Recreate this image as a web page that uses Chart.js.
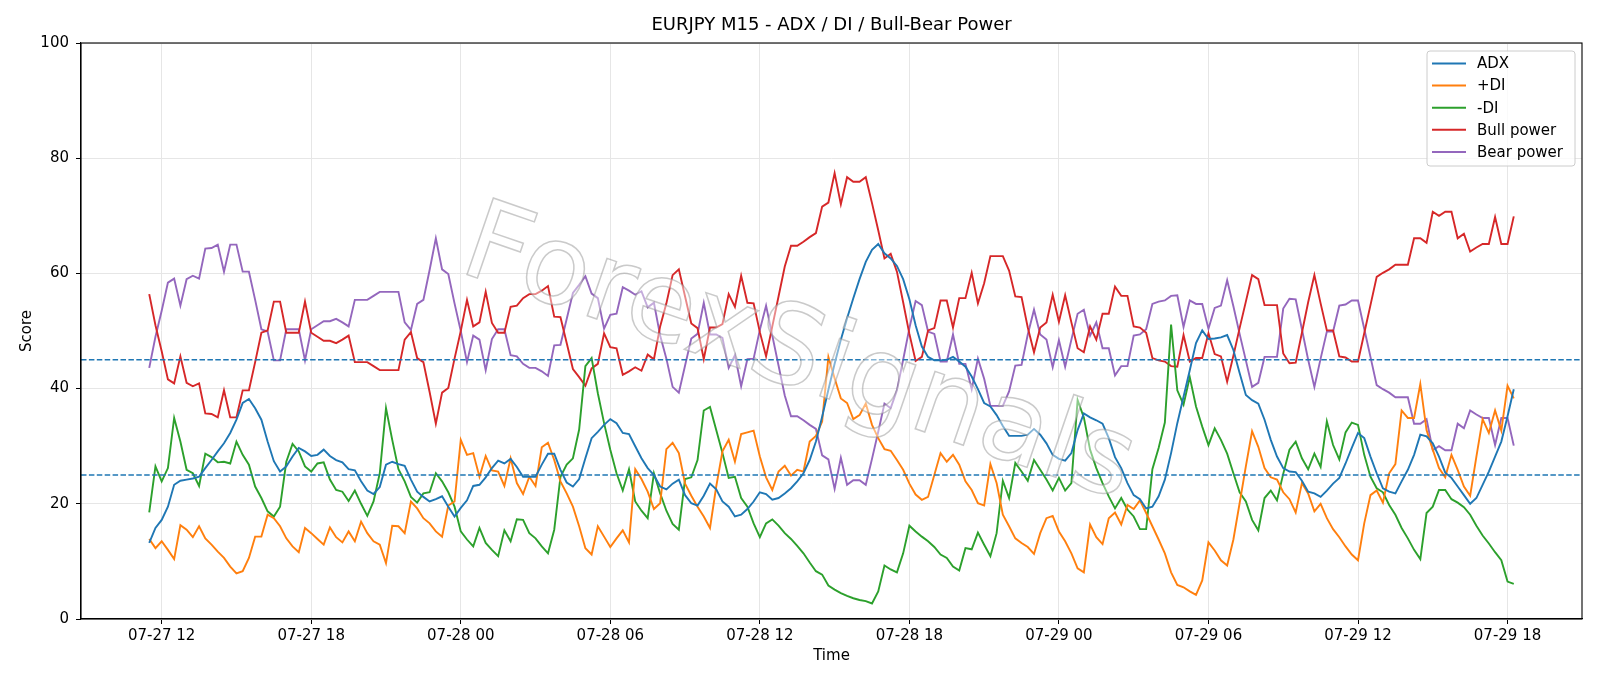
<!DOCTYPE html>
<html>
<head>
<meta charset="utf-8">
<script src="https://cdn.jsdelivr.net/npm/chart.js@4.4.1/dist/chart.umd.min.js"></script>
<style>
  html, body { margin: 0; padding: 0; background: #fff; }
  #wrap { width: 1600px; height: 686px; }
</style>
</head>
<body>
<div id="wrap"><canvas id="chart" width="1600" height="686"></canvas></div>
<script>
// EURJPY M15, 07-27 11:30 -> 07-29 18:15, one value every 15 minutes (index = step)
const xTickPos = [2, 26, 50, 74, 98, 122, 146, 170, 194, 218];
const xTickLabels = ['07-27 12', '07-27 18', '07-28 00', '07-28 06', '07-28 12',
                     '07-28 18', '07-29 00', '07-29 06', '07-29 12', '07-29 18'];
const levels = [25, 45];

const adx = [
  13.2,15.8,17.2,19.5,23.3,24,24.2,24.4,24.7,26.2,
  27.6,29.1,30.5,32.3,34.6,37.5,38.2,36.6,34.6,30.8,
  27.4,25.6,26.5,28.2,29.7,29.1,28.3,28.5,29.4,28.3,
  27.6,27.2,26,25.8,23.9,22.3,21.7,22.9,26.8,27.3,
  26.9,26.6,24.2,22.1,21.2,20.4,20.8,21.3,19.5,17.8,
  19.3,20.6,23.1,23.3,24.6,26.2,27.5,27,27.8,26.4,
  24.7,24.7,24.7,26.8,28.7,28.7,25.9,23.7,23,24.3,
  27.9,31.4,32.5,33.7,34.7,34,32.3,32.1,30,27.9,
  26.2,25,23,22.5,23.5,24.2,21.5,20.1,19.7,21.4,
  23.5,22.5,20.4,19.5,17.8,18.1,19.1,20.4,22,21.7,
  20.7,21,21.8,22.7,23.9,25.3,27.6,30.8,35.1,39.8,
  44.3,48.5,52.2,55.7,59,62,64.1,65.1,63.5,62.6,
  61.3,59,55.5,51,47.3,45.5,44.9,44.9,45,45.5,
  44.7,43.8,42.1,39.9,37.5,36.9,35.4,33.5,31.8,31.8,
  31.8,32,33,32,30.5,28.5,27.8,27.5,28.8,32.8,
  35.7,35,34.5,33.9,31.4,28.1,26.2,23.6,21.5,20.8,
  19.2,19.5,21.3,24.2,28.8,34,38.6,43.2,47.9,50.1,
  48.6,48.7,48.9,49.3,46.7,42.7,38.9,38,37.4,34.6,
  31.1,28.2,26.2,25.6,25.5,24,22.1,21.8,21.2,22.3,
  23.5,24.5,27,29.7,32.3,31.4,28.2,25.3,22.7,22.1,
  21.8,23.9,25.9,28.5,32,31.7,30.5,28.2,25.4,24.5,
  23,21.5,20,21,23.3,25.6,28.2,30.8,35.2,39.9
];
const plusDI = [
  13.9,12.3,13.5,12,10.4,16.3,15.5,14.2,16.1,14,
  12.9,11.7,10.6,9.1,7.9,8.3,10.6,14.3,14.3,18.1,
  17.5,16.1,14,12.6,11.6,15.8,14.9,13.9,12.9,15.9,
  14.2,13.3,15.2,13.5,16.9,14.9,13.5,12.9,9.7,16.2,
  16.1,14.9,20.4,19.2,17.5,16.6,15.2,14.3,19.7,20.4,
  31.1,28.5,28.8,24.7,28.3,25.8,25.6,23.1,27.9,23.6,
  21.7,24.7,23.1,29.8,30.6,27.6,23.9,21.8,19.5,16.1,
  12.3,11.2,16.1,14.3,12.5,14,15.4,13.3,26,24.3,
  22.1,19.1,20.1,29.5,30.6,28.8,23.5,21.4,19.5,17.8,
  15.8,23,29.1,31.1,27.3,32.1,32.4,32.7,28.2,24.6,
  22.4,25.6,26.6,24.9,25.9,25.6,30.8,31.8,34.3,45.5,
  41.8,38.3,37.5,34.7,35.4,37.4,33.7,31.4,29.5,29.2,
  27.6,25.9,23.5,21.6,20.7,21.2,25,28.8,27.3,28.5,
  26.8,23.9,22.4,20.1,19.7,26.9,23.6,18.1,16.1,14,
  13.2,12.5,11.3,14.9,17.5,17.9,15.2,13.5,11.4,8.8,
  8.1,16.4,14.2,13,17.5,18.5,16.4,19.8,19.1,20.6,
  18.4,16.1,13.8,11.4,8.1,5.9,5.5,4.8,4.2,6.7,
  13.3,11.9,10.2,9.3,13.8,20.1,26.5,32.6,29.9,26.2,
  24.6,24.2,22,20.8,18.5,23.6,21.8,18.7,20,17.5,
  15.6,14.2,12.6,11.2,10.2,16.6,21.5,22.3,20.2,25.3,
  26.9,36.2,34.9,34.9,40.8,32.8,29.4,26.2,24.6,28.5,
  25.9,23,21.4,28.2,34.7,32.3,36.2,32.7,40.5,38.3
];
const minusDI = [
  18.5,26.5,23.9,26.2,34.9,30.8,25.9,25.3,23.1,28.7,
  28.1,27.2,27.3,27,30.8,28.5,26.8,23,21,18.7,
  17.8,19.5,27.3,30.4,29.1,26.5,25.6,27,27.2,24.2,
  22.4,22.1,20.5,22.3,20,17.9,20.4,25.3,36.6,31.1,
  26,23.9,21.2,20.2,21.8,22,25.3,23.9,22,19.5,
  15.2,13.8,12.6,15.8,13.2,12,10.9,15.4,13.5,17.3,
  17.2,14.9,14,12.6,11.4,15.5,24.7,26.8,27.9,32.9,
  43.9,45.3,39.2,34,29.4,25.3,22.3,26,20.4,18.8,
  17.5,25.3,21.8,18.8,16.5,15.5,24.3,24.6,27.6,36.2,
  36.8,32.8,28.8,24.5,24.7,21,19.5,16.6,14.2,16.6,
  17.3,16.2,14.9,13.9,12.7,11.4,9.8,8.3,7.7,5.8,
  5.1,4.5,4,3.6,3.3,3.1,2.7,4.8,9.3,8.6,
  8.1,11.4,16.2,15.2,14.3,13.5,12.5,11.2,10.6,9.1,
  8.4,12.3,12.1,15,12.9,10.9,14.9,24,21,27.1,
  25.6,24,27.6,25.9,24.2,22.3,24.5,22.3,23.6,38,
  35,29.4,26.2,23.6,21.3,19.2,21,19,17.8,15.6,
  15.6,26,29.7,34.1,51.1,39.7,37.2,42,36.9,33.4,
  30.2,33.1,31.1,28.7,25.3,22,20.4,17.2,15.4,21,
  22.3,20.6,25.2,29.4,30.8,27.9,26,28.7,26.4,34.3,
  30.2,27.7,32.4,34.1,33.7,28.5,24.7,22.7,22,19.8,
  18.1,15.8,14,12,10.4,18.4,19.5,22.4,22.4,20.8,
  20.2,19.4,18.1,16.2,14.5,13.1,11.6,10.2,6.5,6.1
];
const bullPower = [
  56.4,51,46.5,41.6,40.9,45.6,41,40.4,40.9,35.7,
  35.6,35,39.7,35,35,39.7,39.7,44.6,49.7,50.1,
  55.1,55.1,49.7,49.7,49.7,55.1,49.7,49,48.3,48.3,
  47.9,48.5,49.2,44.6,44.6,44.6,43.9,43.2,43.2,43.2,
  43.2,48.5,49.8,45.3,44.6,39.4,33.9,39.3,40.1,45.2,
  50,55.4,50.8,51.5,56.8,51.4,49.7,49.7,54.2,54.4,
  55.7,56.4,56.4,57,57.8,52.5,52.4,47.9,43.4,42,
  40.5,43.5,44.3,49.6,47.2,47,42.4,43,43.7,43.1,
  45.9,45.1,50.8,54.8,59.7,60.7,56,51.3,50.5,45.1,
  50.6,50.6,51.2,56.4,54.2,59.6,54.9,54.8,49.8,45.6,
  50.8,56,61.2,64.8,64.8,65.5,66.3,67,71.6,72.3,
  77.4,72,76.7,75.9,75.9,76.7,72.2,67.5,62.6,63.4,
  60.3,55,49.5,44.8,45.5,50.1,50.5,55.3,55.3,50.6,
  55.7,55.7,60.1,54.8,58.3,63,63,63,60.5,56,
  55.9,50.6,46.3,50.6,51.5,56.3,51.6,56.2,51.5,47,
  46.3,50.8,48.5,53,53,57.7,56.1,56.1,50.8,50.6,
  49.7,45.3,44.9,44.7,43.9,43.8,49.3,44.7,45.3,45.3,
  49.6,46,45.6,41.2,45.7,50.5,55.1,59.7,59,54.5,
  54.5,54.5,46.1,44.4,44.5,49.7,55,59.7,54.8,50.1,
  50.1,45.6,45.4,44.7,44.7,49.6,54.5,59.4,60.1,60.7,
  61.5,61.5,61.5,66.1,66.1,65.3,70.7,70,70.7,70.7,
  66.1,66.9,63.8,64.5,65.1,65.1,69.8,65.1,65.1,69.9
];
const bearPower = [
  43.6,49,53.5,58.4,59.1,54.4,59,59.6,59.1,64.3,
  64.4,65,60.3,65,65,60.3,60.3,55.4,50.3,49.9,
  44.9,44.9,50.3,50.3,50.3,44.9,50.3,51,51.7,51.7,
  52.1,51.5,50.8,55.4,55.4,55.4,56.1,56.8,56.8,56.8,
  56.8,51.5,50.2,54.7,55.4,60.6,66.1,60.7,59.9,54.8,
  50,44.6,49.2,48.5,43.2,48.6,50.3,50.3,45.8,45.6,
  44.3,43.6,43.6,43,42.2,47.5,47.6,52.1,56.6,58,
  59.5,56.5,55.7,50.4,52.8,53,57.6,57,56.3,56.9,
  54.1,54.9,49.2,45.2,40.3,39.3,44,48.7,49.5,54.9,
  49.4,49.4,48.8,43.6,45.8,40.4,45.1,45.2,50.2,54.4,
  49.2,44,38.8,35.2,35.2,34.5,33.7,33,28.4,27.7,
  22.6,28,23.3,24.1,24.1,23.3,27.8,32.5,37.4,36.6,
  39.7,45,50.5,55.2,54.5,49.9,49.5,44.7,44.7,49.4,
  44.3,44.3,39.9,45.2,41.7,37,37,37,39.5,44,
  44.1,49.4,53.7,49.4,48.5,43.7,48.4,43.8,48.5,53,
  53.7,49.2,51.5,47,47,42.3,43.9,43.9,49.2,49.4,
  50.3,54.7,55.1,55.3,56.1,56.2,50.7,55.3,54.7,54.7,
  50.4,54,54.4,58.8,54.3,49.5,44.9,40.3,41,45.5,
  45.5,45.5,53.9,55.6,55.5,50.3,45,40.3,45.2,49.9,
  49.9,54.4,54.6,55.3,55.3,50.4,45.5,40.6,39.9,39.3,
  38.5,38.5,38.5,33.9,33.9,34.7,29.3,30,29.3,29.3,
  33.9,33.1,36.2,35.5,34.9,34.9,30.2,34.9,34.9,30.1
];

const FONT = "'DejaVu Sans', 'Liberation Sans', sans-serif";
Chart.defaults.font.family = FONT;
Chart.defaults.font.size = 15;
Chart.defaults.color = '#000';

function pts(arr) { return arr.map((v, i) => ({ x: i, y: v })); }

const series = [
  { label: 'ADX', data: adx, color: '#1f77b4' },
  { label: '+DI', data: plusDI, color: '#ff7f0e' },
  { label: '-DI', data: minusDI, color: '#2ca02c' },
  { label: 'Bull power', data: bullPower, color: '#d62728' },
  { label: 'Bear power', data: bearPower, color: '#9467bd' }
];

// spines, dashed levels, watermark, legend, title
const extras = {
  id: 'extras',
  afterDatasetsDraw(chart) {
    const { ctx, chartArea: a, scales: { y } } = chart;
    ctx.save();
    ctx.beginPath();
    ctx.rect(a.left, a.top, a.right - a.left, a.bottom - a.top);
    ctx.clip();
    // threshold lines
    ctx.strokeStyle = '#1f77b4';
    ctx.lineWidth = 1.4;
    ctx.setLineDash([5.5, 2.4]);
    levels.forEach(l => {
      const py = y.getPixelForValue(l);
      ctx.beginPath();
      ctx.moveTo(a.left, py);
      ctx.lineTo(a.right, py);
      ctx.stroke();
    });
    ctx.setLineDash([]);
    // watermark
    ctx.translate(798, 358);
    ctx.rotate(19 * Math.PI / 180);
    ctx.font = '111px ' + FONT;
    ctx.textAlign = 'center';
    ctx.textBaseline = 'middle';
    ctx.fillStyle = 'rgba(255,255,255,0.45)';
    ctx.fillText('ForexSignals', 0, 0);
    ctx.strokeStyle = 'rgba(150,150,150,0.5)';
    ctx.lineWidth = 1.5;
    ctx.strokeText('ForexSignals', 0, 0);
    ctx.restore();

    // full frame (matplotlib spines)
    ctx.save();
    ctx.strokeStyle = '#000';
    ctx.lineWidth = 1.1;
    ctx.strokeRect(a.left, a.top, a.right - a.left, a.bottom - a.top);
    ctx.restore();
  },
  afterDraw(chart) {
    const { ctx, chartArea: a } = chart;
    ctx.save();
    // title
    ctx.font = '18px ' + FONT;
    ctx.fillStyle = '#000';
    ctx.textAlign = 'center';
    ctx.textBaseline = 'middle';
    ctx.fillText('EURJPY M15 - ADX / DI / Bull-Bear Power', (a.left + a.right) / 2, 25);
    // legend
    const bx = 1427, by = 51, bw = 148, bh = 115;
    ctx.beginPath();
    ctx.roundRect(bx, by, bw, bh, 3);
    ctx.fillStyle = 'rgba(255,255,255,0.8)';
    ctx.fill();
    ctx.strokeStyle = '#cccccc';
    ctx.lineWidth = 1;
    ctx.stroke();
    ctx.font = '15px ' + FONT;
    ctx.textAlign = 'left';
    series.forEach((s, i) => {
      const ry = 63.5 + i * 22.1;
      ctx.strokeStyle = s.color;
      ctx.lineWidth = 2;
      ctx.beginPath();
      ctx.moveTo(1432, ry);
      ctx.lineTo(1466, ry);
      ctx.stroke();
      ctx.fillStyle = '#000';
      ctx.fillText(s.label, 1477, ry + 1);
    });
    ctx.restore();
  }
};

new Chart(document.getElementById('chart'), {
  type: 'line',
  data: {
    datasets: series.map(s => ({
      label: s.label,
      data: pts(s.data),
      borderColor: s.color,
      backgroundColor: s.color,
      borderWidth: 1.9,
      pointRadius: 0,
      tension: 0,
      fill: false
    }))
  },
  options: {
    responsive: false,
    animation: false,
    devicePixelRatio: 1,
    layout: { padding: { top: 43, right: 18, left: 0, bottom: 0 } },
    plugins: { legend: { display: false }, tooltip: { enabled: false }, title: { display: false } },
    scales: {
      x: {
        type: 'linear',
        min: -10.95,
        max: 229.95,
        afterBuildTicks: s => { s.ticks = xTickPos.map(v => ({ value: v })); },
        afterFit: s => { s.height = 67; },
        ticks: {
          autoSkip: false,
          maxRotation: 0,
          padding: 3,
          callback: v => xTickLabels[xTickPos.indexOf(v)]
        },
        grid: { color: '#e6e6e6', lineWidth: 1, tickColor: '#000', tickLength: 5 },
        border: { color: '#000', width: 1.1 },
        title: { display: true, text: 'Time', font: { size: 15 }, padding: { top: 0, bottom: 21 } }
      },
      y: {
        min: 0,
        max: 100,
        afterFit: s => { s.width = 81; },
        ticks: { stepSize: 20, padding: 7 },
        grid: { color: '#e6e6e6', lineWidth: 1, tickColor: '#000', tickLength: 5 },
        border: { color: '#000', width: 1.1 },
        title: { display: true, text: 'Score', font: { size: 15 }, padding: { top: 18, bottom: 0 } }
      }
    }
  },
  plugins: [extras]
});
</script>
</body>
</html>
